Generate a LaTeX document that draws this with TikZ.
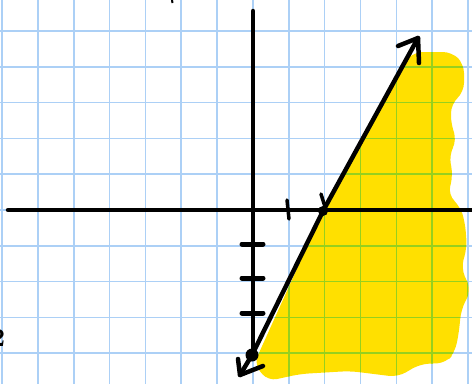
\documentclass[tikz,border=0pt]{standalone}
\begin{document}
\begin{tikzpicture}[x=1pt,y=-1pt,
  gridline/.style={draw={rgb,255:red,172;green,208;blue,246}, line width=1.6},
  gridon/.style={draw={rgb,255:red,150;green,208;blue,30}, line width=1.6},
  pen/.style={line width=4.5, line cap=round, line join=round},
  yel/.style={fill={rgb,255:red,255;green,224;blue,0}},
  tickmark/.style={line width=4.5, line cap=round},
]
\useasboundingbox (0,0) rectangle (472,384);
\fill[white] (0,0) rectangle (472,384);
\newcommand\yellowregion{[rounded corners=9] (268,381) -- (254,364) -- (323,211) -- (404,62) -- (414,52) -- (452,52) -- (464,64) -- (464,92) -- (451,104) -- (451,125) -- (457,140) -- (449,155) -- (453,175) -- (448,195) -- (460,206) -- (465,222) -- (467,248) -- (461,268) -- (471,290) -- (461,310) -- (459,332) -- (455,352) -- (446,363) -- (420,364) -- (398,377) -- (350,371) -- (300,374) -- cycle}
% grid
\foreach \i in {0,...,13} \draw[gridline] ({2+35.85*\i},0) -- ({2+35.85*\i},384);
\foreach \j in {-5,...,4} \draw[gridline] (0,{210+35.8*\j}) -- (472,{210+35.8*\j});
% shaded region
\path[yel] \yellowregion;
\begin{scope}
  \clip \yellowregion;
  \foreach \i in {0,...,13} \draw[gridon] ({2+35.85*\i},0) -- ({2+35.85*\i},384);
  \foreach \j in {-5,...,4} \draw[gridon] (0,{210+35.8*\j}) -- (472,{210+35.8*\j});
\end{scope}
% axes
\coordinate (xl) at (8,210);
\coordinate (xr) at (474,210);
\coordinate (yt) at (253,11);
\coordinate (yb) at (253,357);
\draw[pen] (xl) -- (xr);
\draw[pen] (yt) -- (yb);
% ticks
\coordinate (t1a) at (287,200); \coordinate (t1b) at (289,219);
\draw[tickmark, line width=3.5] (t1a) -- (t1b);
\coordinate (t2a) at (321,194); \coordinate (t2b) at (326,210);
\draw[tickmark, line width=3.5] (t2a) -- (t2b);
\foreach \y/\n in {244/a,278/b,313/c} {
  \coordinate (ya\n) at (242,\y); \coordinate (yb\n) at (263,\y);
  \draw[tickmark, line width=5] (ya\n) -- (yb\n);
}
% boundary line
\coordinate (bt) at (240,375);
\coordinate (bp) at (252,355);
\coordinate (xi) at (323,211);
\coordinate (tp) at (418,38);
\draw[pen] (bt) -- (bp) -- (xi) -- (tp);
% arrow heads
\coordinate (ta1) at (398,46); \coordinate (ta2) at (419,63);
\draw[pen] (ta1) -- (tp) -- (ta2);
\coordinate (ba1) at (238,359); \coordinate (ba2) at (263,366);
\draw[pen] (ba1) -- (bt) -- (ba2);
% dots
\fill (xi) circle (5);
\fill (bp) circle (6.5);
% cut-off fragments
\node[font=\bfseries\fontsize{26}{26}\selectfont, inner sep=0] (two) at (-2,338) {2};
\coordinate (f1) at (172,0); \coordinate (f2) at (172.5,3);
\draw[line width=2] (f1) -- (f2);
\end{tikzpicture}
\end{document}
